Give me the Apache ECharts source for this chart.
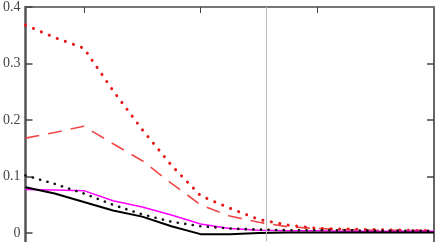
<!DOCTYPE html>
<html><head><meta charset="utf-8">
<script src="https://cdn.jsdelivr.net/npm/echarts@6/dist/echarts.min.js"></script>
<style>html,body{margin:0;padding:0;background:#fff}#c{width:438px;height:242px}</style>
</head><body><div id="c"></div>
<script>
var xValues = [0,0.25,0.5,0.75,1,1.25,1.5,1.75,2,2.25,2.5,2.75,3,3.25,3.5];
var redDotted = [0.368,0.346,0.327,0.252,0.183,0.12,0.066,0.044,0.024,0.014,0.008,0.007,0.006,0.005,0.004];
var redDashed = [0.168,0.178,0.189,0.158,0.128,0.088,0.05,0.03,0.019,0.011,0.008,0.006,0.005,0.005,0.004];
var blackDotted = [0.102,0.087,0.07,0.05,0.033,0.02,0.012,0.008,0.006,0.005,0.005,0.005,0.004,0.004,0.004];
var magentaLine = [0.077,0.076,0.075,0.057,0.046,0.032,0.016,0.008,0.005,0.004,0.004,0.003,0.003,0.003,0.003];
var blackSolid = [0.081,0.07,0.055,0.04,0.029,0.012,-0.002,-0.002,0.0,0.001,0.001,0.001,0.001,0.001,0.001];
var yTicks = [0,0.1,0.2,0.3,0.4];
var rightTicks = [0.1,0.2,0.3];
var topTicks = [0.5,1.5,2.5];
var markerX = 2.06;

function pairs(arr){ return xValues.map(function(x,i){ return [x, arr[i]]; }); }
function mk(name, arr, color, width, type, cap){
  return {name:name, type:'line', data:pairs(arr), symbol:'none', silent:true, clip:true,
    lineStyle:{color:color, width:width, type:type, cap:cap||'butt'}, z:2};
}
var chart = echarts.init(document.getElementById('c'), null, {renderer:'canvas'});
var s = [
  mk('redDashed', redDashed, '#f04848', 1.6, [14,9]),
  mk('redDotted', redDotted, '#e81818', 3, [0.1,8.5], 'round'),
  mk('magenta', magentaLine, '#ff00ff', 1.5, 'solid'),
  mk('blackDotted', blackDotted, '#111111', 2.6, [0.1,7.5], 'round'),
  mk('blackSolid', blackSolid, '#000000', 2, 'solid')
];
s[0].markLine = {silent:true, symbol:'none', label:{show:false},
  lineStyle:{color:'#bbbbbb', width:1, type:'solid'}, data:[{xAxis:markerX}]};
function yAx(pos, labels, ticks){
  return {type:'value', min:-0.015, max:0.4, position:pos,
    axisLine:{show:true, lineStyle:{color: pos==='left' ? '#555' : '#333', width: pos==='left' ? 2.5 : 1.5}},
    axisTick:{show:true, inside:true, length:7, customValues:ticks, lineStyle:{color:'#444', width:1.5}},
    axisLabel:{show:labels, margin:5, color:'#444', fontFamily:'Liberation Serif', fontSize:14,
      customValues:yTicks,
      formatter:function(v){ return String(Math.round(v*10)/10); }},
    splitLine:{show:false}};
}
chart.setOption({
  animation:false,
  backgroundColor:'#fff',
  grid:{left:24, top:6, right:4, bottom:0.5, containLabel:false},
  xAxis:{type:'value', min:0, max:3.5, position:'top',
    axisLine:{show:true, onZero:false, lineStyle:{color:'#777', width:2}},
    axisTick:{show:true, inside:true, length:6, customValues:topTicks, lineStyle:{color:'#444', width:1}},
    axisLabel:{show:false}, splitLine:{show:false}},
  yAxis:[yAx('left', true, yTicks), yAx('right', false, rightTicks)],
  series:s
});
</script></body></html>
